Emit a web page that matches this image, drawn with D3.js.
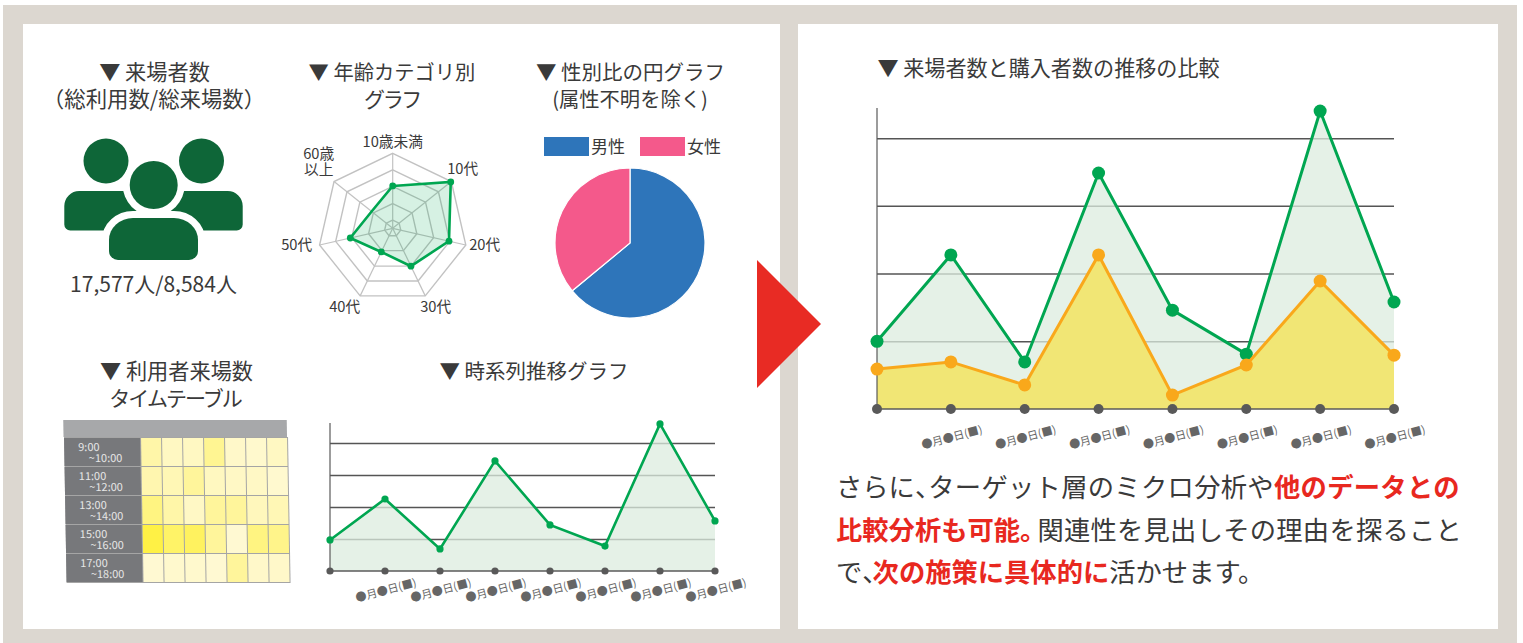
<!DOCTYPE html>
<html>
<head>
<meta charset="utf-8">
<script src="https://cdn.jsdelivr.net/npm/d3@7"></script>
<style>
    html, body { margin: 0; padding: 0; background: #fff; }
    svg { display: block; }
    text { font-family: "Noto Sans CJK JP", "Noto Sans", sans-serif; fill: #3a3a3a; }
    .title { text-anchor: middle; }
    .body { font-size: 26.3px; }
    .body .red { fill: #e8281f; font-weight: 700; }
    .grid line { stroke: #555; stroke-width: 1.5; }
    .grid path { display: none; }
    .date text { fill: #666; font-size: 11px; }
    .date path, .date line { display: none; }
</style>
</head>
<body>
<div id="chart"></div>
<script>
var dates = ["", "●月●日(■)", "●月●日(■)", "●月●日(■)", "●月●日(■)", "●月●日(■)", "●月●日(■)", "●月●日(■)"];
var visitorsSmall = [19.4, 45, 13.8, 68.8, 28.8, 15.6, 91.9, 31.3];
var visitorsLarge = [20, 45.5, 13.9, 69.7, 29.2, 16.2, 88, 31.6];
var buyersLarge = [11.8, 13.9, 7.1, 45.5, 4.1, 13, 37.8, 15.9];
var gridTicks = [20, 40, 60, 80];

var ageLabels = [["10歳未満"], ["10代"], ["20代"], ["30代"], ["40代"], ["50代"], ["60歳", "以上"]];
var ageValues = [56.5, 99, 77, 56, 35, 58, 36];
var ageRings = [11, 33, 56, 78, 100];

var genderLabels = ["男性", "女性"];
var genderValues = [64, 36];
var genderColors = ["#2e75ba", "#f4598b"];

var timeSlots = [["9:00", "~10:00"], ["11:00", "~12:00"], ["13:00", "~14:00"], ["15:00", "~16:00"], ["17:00", "~18:00"]];
var timeTable = [
    [40, 20, 20, 55, 15, 12, 20],
    [35, 30, 50, 22, 18, 18, 10],
    [65, 40, 18, 50, 50, 25, 30],
    [100, 80, 85, 50, 8, 65, 60],
    [8, 12, 12, 8, 50, 15, 15]
];

// text, is it red, letter spacing (the punctuation glyphs get pulled in)
var bodyLines = [
    [["さらに", 0, 0], ["、", 0, -13], ["ターゲット層のミクロ分析や", 0, 0.3], ["他のデータとの", 1, 0.3]],
    [["比較分析も可能", 1, 0], ["。", 1, -9], ["関連性を見出しその理由を探ること", 0, 0.25]],
    [["で", 0, 0], ["、", 0, -16], ["次の施策に具体的に", 1, 0], ["活かせます。", 0, 0]]
];

var green = "#00a651", orange = "#f9a81b", darkGreen = "#0e6638";

var svg = d3.select("#chart").append("svg").attr("width", 1523).attr("height", 643);

// background panels
svg.append("rect").attr("x", 3).attr("y", 5).attr("width", 1514).attr("height", 638).attr("fill", "#dcd7d0");
svg.append("rect").attr("x", 23).attr("y", 24).attr("width", 757).attr("height", 605).attr("fill", "#fff");
svg.append("rect").attr("x", 798).attr("y", 24).attr("width", 700).attr("height", 605).attr("fill", "#fff");
svg.append("path").attr("d", "M757,260L821,324L757,388Z").attr("fill", "#e82b24");

function title(x, y, str, size, spacing) {
    svg.append("text").attr("class", "title").attr("x", x).attr("y", y)
        .style("font-size", size + "px").style("letter-spacing", (spacing || 0) + "px").text(str);
}

title(154.5, 80, "▼ 来場者数", 21.2);
title(154, 107, "（総利用数/総来場数）", 21.4);
title(392, 80, "▼ 年齢カテゴリ別", 20.3);
title(392, 107, "グラフ", 21, -2.4);
title(630.5, 80, "▼ 性別比の円グラフ", 20.5);
title(630, 107, "(属性不明を除く)", 20.3);
title(176.5, 379, "▼ 利用者来場数", 21.2);
title(175, 406, "タイムテーブル", 21, -2);
title(534, 379, "▼ 時系列推移グラフ", 20.5);
title(1048.5, 76, "▼ 来場者数と購入者数の推移の比較", 21.1);
title(153.5, 292, "17,577人/8,584人", 21);

peopleIcon();
radarChart();
pieChart();
heatTable();
lineChart({x0: 330, x1: 715, base: 571, top: 423, yMax: 92.5, r: 3.6, tickR: 3.6, labelDy: 19, lineW: 2.6,
    series: [{values: visitorsSmall, line: green, fill: "#dcecdf", opacity: 0.75}]});
lineChart({x0: 877, x1: 1394, base: 409, top: 108, yMax: 88.9, r: 6.5, tickR: 5, labelDy: 28, lineW: 3,
    series: [{values: visitorsLarge, line: green, fill: "#dcecdf", opacity: 0.75}, {values: buyersLarge, line: orange, fill: "#f1e675", opacity: 1}]});
bodyText();

function peopleIcon() {
    var g = svg.append("g");
    var side = "M64.3,206a15,15 0 0 1 15,-15h148.4a15,15 0 0 1 15,15v18.5a6,6 0 0 1 -6,6h-166.4a6,6 0 0 1 -6,-6Z";
    g.append("path").attr("d", side).attr("fill", darkGreen);
    g.append("circle").attr("cx", 106).attr("cy", 161).attr("r", 22.5).attr("fill", darkGreen);
    g.append("circle").attr("cx", 201.5).attr("cy", 161).attr("r", 22.5).attr("fill", darkGreen);
    g.append("circle").attr("cx", 153.7).attr("cy", 185).attr("r", 31).attr("fill", "#fff");
    var body = "M109,240a24,22 0 0 1 24,-22h41a24,22 0 0 1 24,22v11a9,9 0 0 1 -9,9h-71a9,9 0 0 1 -9,-9Z";
    g.append("path").attr("d", body).attr("fill", darkGreen).attr("stroke", "#fff").attr("stroke-width", 14).attr("paint-order", "stroke");
    g.append("circle").attr("cx", 153.7).attr("cy", 185).attr("r", 24).attr("fill", darkGreen);
}

function radarChart() {
    var cx = 392.7, cy = 228.3;
    var r = d3.scaleLinear().domain([0, 100]).range([0, 75]);
    var step = 2 * Math.PI / ageLabels.length;
    var radial = d3.lineRadial().angle(function (d, i) { return i * step; }).curve(d3.curveLinearClosed);
    var g = svg.append("g").attr("transform", "translate(" + cx + "," + cy + ")");

    g.selectAll(".ring").data(ageRings).enter().append("path")
        .attr("d", function (d) { return radial.radius(r(d))(ageLabels); })
        .attr("fill", "none").attr("stroke", "#c2c2c2").attr("stroke-width", 1.4);

    ageLabels.forEach(function (d, i) {
        g.append("line")
            .attr("x2", r(100) * Math.sin(i * step)).attr("y2", -r(100) * Math.cos(i * step))
            .attr("stroke", "#c2c2c2").attr("stroke-width", 1.2);
    });

    g.append("path")
        .attr("d", radial.radius(function (d) { return r(d); })(ageValues))
        .attr("fill", green).attr("fill-opacity", 0.16).attr("stroke", green).attr("stroke-width", 2.6);

    // the 60+ corner has no dot in the picture
    g.selectAll(".dot").data(ageValues.slice(0, 6)).enter().append("circle")
        .attr("cx", function (d, i) { return r(d) * Math.sin(i * step); })
        .attr("cy", function (d, i) { return -r(d) * Math.cos(i * step); })
        .attr("r", 3.4).attr("fill", green);

    // label centres, relative to the middle of the radar
    var labelPos = [[0, -86], [70, -59], [92, 17], [43, 79], [-48, 79], [-96, 17], [-74, -66]];
    ageLabels.forEach(function (d, i) {
        var t = g.append("text").attr("text-anchor", "middle").style("font-size", "14.7px")
            .attr("transform", "translate(" + labelPos[i][0] + "," + labelPos[i][1] + ")");
        d.forEach(function (s, j) {
            t.append("tspan").attr("x", 0).attr("y", 5 + (j - (d.length - 1) / 2) * 16).text(s);
        });
    });
}

function pieChart() {
    var legend = svg.append("g");
    genderLabels.forEach(function (d, i) {
        legend.append("rect").attr("x", 544 + i * 96).attr("y", 137).attr("width", 45).attr("height", 19).attr("fill", genderColors[i]);
        legend.append("text").attr("x", 591 + i * 96).attr("y", 152.5).style("font-size", "17px").text(d);
    });

    var arc = d3.arc().innerRadius(0).outerRadius(75);
    var pie = d3.pie().sort(null);
    svg.append("g").attr("transform", "translate(630,243)")
        .selectAll("path").data(pie(genderValues)).enter().append("path")
        .attr("d", arc)
        .attr("fill", function (d, i) { return genderColors[i]; })
        .attr("stroke", "#fff").attr("stroke-width", 1.2);
}

function heatTable() {
    // the table in the picture leans a little to the right
    var g = svg.append("g").attr("transform", "translate(-7.6,0) skewX(1)");
    var x = d3.scaleBand().domain(d3.range(7)).range([141, 288]);
    var y = d3.scaleBand().domain(d3.range(5)).range([438, 583]);
    var color = d3.scaleLinear().domain([8, 50, 100]).range(["#fff9d2", "#fff59b", "#fff145"]);

    g.append("rect").attr("x", 63.5).attr("y", 420).attr("width", 223.5).attr("height", 17).attr("fill", "#a7a8aa");
    g.append("rect").attr("x", 64).attr("y", 437).attr("width", 224).attr("height", 146).attr("fill", "#a5a5a5");

    timeSlots.forEach(function (d, i) {
        g.append("rect").attr("x", 64).attr("y", y(i)).attr("width", 76).attr("height", y.bandwidth() - 1).attr("fill", "#77787b");
        g.append("text").attr("x", 78).attr("y", y(i) + 13).style("font-size", "11px").style("fill", "#e6e6e6").text(d[0]);
        g.append("text").attr("x", 122).attr("y", y(i) + 24).attr("text-anchor", "end").style("font-size", "11px").style("fill", "#e6e6e6").text(d[1]);
    });

    g.selectAll(".row").data(timeTable).enter().append("g")
        .attr("transform", function (d, i) { return "translate(0," + y(i) + ")"; })
        .selectAll("rect").data(function (d) { return d; }).enter().append("rect")
        .attr("x", function (d, i) { return x(i); })
        .attr("width", x.bandwidth() - 1)
        .attr("height", y.bandwidth() - 1)
        .attr("fill", function (d) { return color(d); });
}

function lineChart(o) {
    var x = d3.scalePoint().domain(d3.range(dates.length)).range([o.x0, o.x1]);
    var y = d3.scaleLinear().domain([0, o.yMax]).range([o.base, o.top]);
    var g = svg.append("g");

    var line = d3.line().x(function (d, i) { return x(i); }).y(function (d) { return y(d); });
    var area = d3.area().x(function (d, i) { return x(i); }).y0(y(0)).y1(function (d) { return y(d); });

    g.append("g").attr("class", "grid")
        .attr("transform", "translate(" + o.x0 + ",0)")
        .call(d3.axisLeft(y).tickValues(gridTicks).tickSize(o.x0 - o.x1).tickFormat(""));

    o.series.forEach(function (s) {
        g.append("path").attr("d", area(s.values)).attr("fill", s.fill).attr("fill-opacity", s.opacity);
    });

    // axes
    g.append("line").attr("x1", o.x0).attr("x2", o.x0).attr("y1", y(o.yMax)).attr("y2", y(0)).attr("stroke", "#5a5a5a").attr("stroke-width", 1.2);
    g.append("line").attr("x1", o.x0).attr("x2", o.x1).attr("y1", y(0)).attr("y2", y(0)).attr("stroke", "#5a5a5a").attr("stroke-width", 1.6);
    g.selectAll(".tick-dot").data(dates).enter().append("circle")
        .attr("cx", function (d, i) { return x(i); }).attr("cy", y(0)).attr("r", o.tickR).attr("fill", "#595959");

    o.series.forEach(function (s) {
        g.append("path").attr("d", line(s.values)).attr("fill", "none").attr("stroke", s.line).attr("stroke-width", o.lineW);
        g.selectAll(".dot").data(s.values).enter().append("circle")
            .attr("cx", function (d, i) { return x(i); })
            .attr("cy", function (d) { return y(d); })
            .attr("r", o.r).attr("fill", s.line);
    });

    var ax = g.append("g").attr("class", "date")
        .attr("transform", "translate(0," + y(0) + ")")
        .call(d3.axisBottom(x).tickSize(0).tickFormat(function (d, i) { return dates[i]; }));
    ax.selectAll("text")
        .attr("y", 0).attr("dy", 0)
        .attr("text-anchor", "middle")
        .attr("transform", "translate(1.5," + (o.labelDy + 4) + ") rotate(-15)");
}

function bodyText() {
    var baselines = [497, 540, 582];
    bodyLines.forEach(function (parts, i) {
        var t = svg.append("text").attr("class", "body").attr("x", 836).attr("y", baselines[i]);
        parts.forEach(function (p) {
            t.append("tspan").attr("class", p[1] ? "red" : null).style("letter-spacing", p[2] + "px").text(p[0]);
        });
    });
}
</script>
</body>
</html>
